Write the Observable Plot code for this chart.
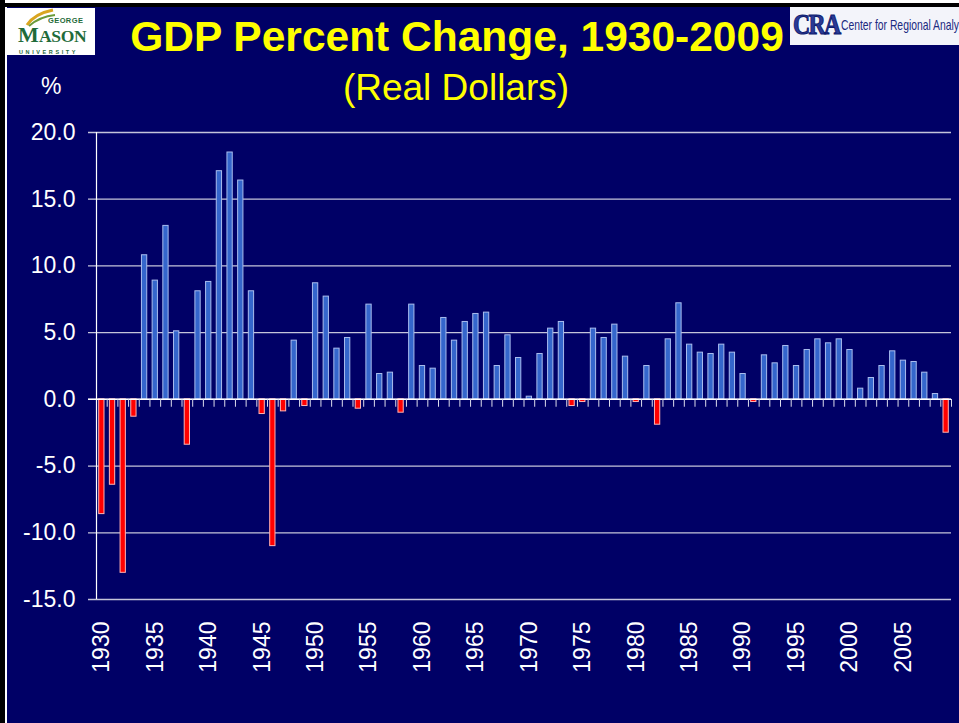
<!DOCTYPE html>
<html>
<head>
<meta charset="utf-8">
<script src="https://cdn.jsdelivr.net/npm/d3@7"></script>
<script src="https://cdn.jsdelivr.net/npm/@observablehq/plot@0.6"></script>
<style>
  html, body { margin: 0; padding: 0; background: #ffffff; }
  #page { position: relative; width: 959px; height: 723px; overflow: hidden; background: #ffffff; font-family: "Liberation Sans", Arial, sans-serif; }
  #blackLeft { position: absolute; left: 0; top: 0; width: 5px; height: 723px; background: #000; }
  #blackTop { position: absolute; left: 5px; top: 3px; width: 954px; height: 4px; background: #000; }
  #panel { position: absolute; left: 7px; top: 7px; width: 952px; height: 716px; background: #000066; }
  #title { position: absolute; left: 457px; top: 16px; transform: translateX(-50%); white-space: nowrap; color: #ffff00; font-weight: bold; font-size: 42.5px; line-height: 42px; }
  #subtitle { position: absolute; left: 456px; top: 69px; transform: translateX(-50%); white-space: nowrap; color: #ffff00; font-size: 37px; line-height: 37px; }
  #pct { position: absolute; left: 41px; top: 75px; color: #ffffff; font-size: 23px; line-height: 23px; }
  #mason { position: absolute; left: 7px; top: 8px; width: 88px; height: 47px; background: #ffffff; overflow: hidden; }
  #mason .george { position: absolute; left: 41px; top: 9px; font-size: 7.5px; line-height: 8px; font-weight: bold; color: #1f6b3a; letter-spacing: 0.4px; }
  #mason .m { position: absolute; left: 11px; top: 18px; font-family: "Liberation Serif", "DejaVu Serif", serif; font-weight: bold; font-size: 22px; line-height: 18px; color: #1f6b3a; }
  #mason .ason { position: absolute; left: 32px; top: 22px; font-family: "Liberation Serif", "DejaVu Serif", serif; font-weight: bold; font-size: 17.5px; line-height: 13px; color: #1f6b3a; letter-spacing: -0.3px; }
  #mason .univ { position: absolute; left: 12px; top: 41px; font-size: 5.5px; font-weight: bold; color: #1f6b3a; letter-spacing: 2.6px; line-height: 6px; white-space: nowrap; }
  #cra { position: absolute; left: 790px; top: 7px; width: 169px; height: 38px; background: #f3f4fa; overflow: hidden; }
  #cra .big { position: absolute; left: 3px; top: 3px; font-family: "Liberation Serif", "DejaVu Serif", serif; font-weight: bold; font-size: 29px; line-height: 29px; color: #2a3a96; letter-spacing: -2px; -webkit-text-stroke: 1px #0d1a6e; transform: scaleX(0.82); transform-origin: 0 0; white-space: nowrap; }
  #cra .name { position: absolute; left: 51px; top: 10px; font-size: 15px; line-height: 15px; color: #1b2a80; white-space: nowrap; transform: scaleX(0.69); transform-origin: 0 0; }
  #chart { position: absolute; left: 0; top: 0; }
</style>
</head>
<body>
<div id="page">
  <div id="blackLeft"></div>
  <div id="blackTop"></div>
  <div id="panel"></div>
  <div id="mason">
    <svg width="88" height="47" style="position:absolute;left:0;top:0">
      <path d="M20,17 C26,8 36,4 46,2" stroke="#d9a520" stroke-width="3" fill="none"/>
      <path d="M22,18 C30,11 38,8 48,7" stroke="#6a9a3a" stroke-width="2" fill="none"/>
    </svg>
    <div class="george">GEORGE</div>
    <div class="m">M</div>
    <div class="ason">ASON</div>
    <div class="univ">UNIVERSITY</div>
  </div>
  <div id="cra">
    <div class="big">CRA</div>
    <div class="name">Center for Regional Analysis</div>
  </div>
  <div id="title">GDP Percent Change, 1930-2009</div>
  <div id="subtitle">(Real Dollars)</div>
  <div id="pct">%</div>
  <div id="chart"></div>
</div>
<script>
// ---- data ----
const years = [
  1930, 1931, 1932, 1933, 1934, 1935, 1936, 1937, 1938, 1939,
  1940, 1941, 1942, 1943, 1944, 1945, 1946, 1947, 1948, 1949,
  1950, 1951, 1952, 1953, 1954, 1955, 1956, 1957, 1958, 1959,
  1960, 1961, 1962, 1963, 1964, 1965, 1966, 1967, 1968, 1969,
  1970, 1971, 1972, 1973, 1974, 1975, 1976, 1977, 1978, 1979,
  1980, 1981, 1982, 1983, 1984, 1985, 1986, 1987, 1988, 1989,
  1990, 1991, 1992, 1993, 1994, 1995, 1996, 1997, 1998, 1999,
  2000, 2001, 2002, 2003, 2004, 2005, 2006, 2007, 2008, 2009
];
const gdpChange = [
  -8.6, -6.4, -13.0, -1.3, 10.8, 8.9, 13.0, 5.1, -3.4, 8.1,
  8.8, 17.1, 18.5, 16.4, 8.1, -1.1, -11.0, -0.9, 4.4, -0.5,
  8.7, 7.7, 3.8, 4.6, -0.7, 7.1, 1.9, 2.0, -1.0, 7.1,
  2.5, 2.3, 6.1, 4.4, 5.8, 6.4, 6.5, 2.5, 4.8, 3.1,
  0.2, 3.4, 5.3, 5.8, -0.5, -0.2, 5.3, 4.6, 5.6, 3.2,
  -0.2, 2.5, -1.9, 4.5, 7.2, 4.1, 3.5, 3.4, 4.1, 3.5,
  1.9, -0.2, 3.3, 2.7, 4.0, 2.5, 3.7, 4.5, 4.2, 4.5,
  3.7, 0.8, 1.6, 2.5, 3.6, 2.9, 2.8, 2.0, 0.4, -2.5
];
const yTicks = [-15, -10, -5, 0, 5, 10, 15, 20];
const xTickYears = [1930, 1935, 1940, 1945, 1950, 1955, 1960, 1965, 1970, 1975, 1980, 1985, 1990, 1995, 2000, 2005];

// ---- build ----
const rows = years.map((year, i) => ({year, value: gdpChange[i]}));
const xDomain = [years[0], years[years.length - 1] + 1];
const boundaries = years.concat([xDomain[1]]);

const gridColor = "#c4c4da";
const tickShape = {draw(context, l) { context.moveTo(0, 0); context.lineTo(0, -l); }};

const chart = Plot.plot({
  width: 959,
  height: 723,
  marginTop: 132,
  marginBottom: 124,
  marginLeft: 96,
  marginRight: 8,
  style: {background: "transparent", color: "white", fontFamily: "'Liberation Sans', Arial, sans-serif", overflow: "visible"},
  x: {type: "linear", domain: xDomain, axis: null},
  y: {domain: [-15, 20], axis: null},
  marks: [
    Plot.ruleY(yTicks, {stroke: gridColor, strokeWidth: 1.3, insetLeft: -8}),
    Plot.rect(rows.filter(d => d.value >= 0), {
      x1: "year", x2: d => d.year + 1, y1: 0, y2: "value",
      insetLeft: 2.7, insetRight: 2.7,
      fill: "#3466cc", stroke: "#a9bcee", strokeWidth: 1
    }),
    Plot.rect(rows.filter(d => d.value < 0), {
      x1: "year", x2: d => d.year + 1, y1: 0, y2: "value",
      insetLeft: 2.7, insetRight: 2.7,
      fill: "#ff0000", stroke: "#ffb4b4", strokeWidth: 1
    }),
    Plot.ruleY([0], {stroke: "#ffffff", strokeWidth: 1.5, insetLeft: -8}),
    Plot.vector(boundaries, {
      x: d => d, y: 0, length: 7, rotate: 180, anchor: "start",
      shape: tickShape, stroke: "#dcdcec", strokeWidth: 1
    }),
    Plot.ruleX([xDomain[0]], {stroke: "#ffffff", strokeWidth: 1.2}),
    Plot.axisY(yTicks, {
      tickSize: 0, tickPadding: 21, tickFormat: d => d.toFixed(1),
      fontSize: 23, color: "white", label: null
    }),
    Plot.text(xTickYears, {
      x: d => d + 0.5, frameAnchor: "bottom", text: d => String(d),
      rotate: -90, textAnchor: "end", lineAnchor: "middle", dy: 22,
      fill: "white", fontSize: 23
    })
  ]
});
document.getElementById("chart").appendChild(chart);
</script>
</body>
</html>
